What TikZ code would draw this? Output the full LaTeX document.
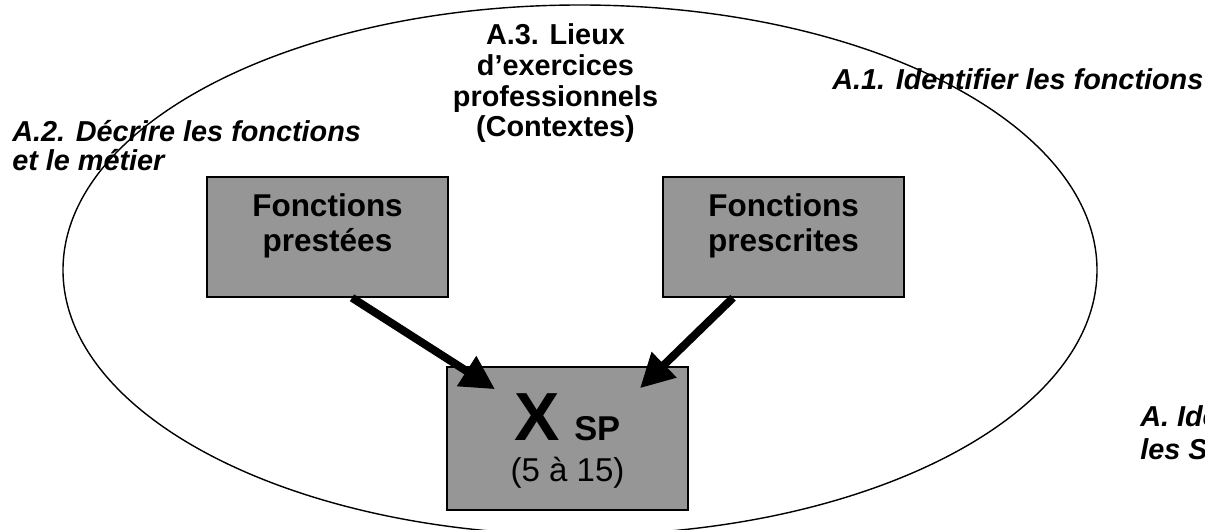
\documentclass[tikz,border=0pt]{standalone}
\usepackage{fontspec}
\setmainfont{Liberation Sans}
\usetikzlibrary{arrows.meta, positioning, calc}
\definecolor{boitegris}{RGB}{150,150,150}
\tikzset{
    boite/.style={
        rectangle,
        draw=black,
        fill=boitegris,
        line width=1.1pt,
        minimum width=6.025cm,
        minimum height=3cm,
        inner sep=0pt
    },
    boitetxt/.style={
        align=center,
        inner sep=0pt,
        font=\fontsize{22.4}{24.9}\selectfont\bfseries
    },
    etape/.style={
        align=left,
        inner sep=0pt,
        anchor=base west,
        font=\fontsize{20.5}{#1}\selectfont\bfseries\itshape
    },
    etape/.default=22pt,
    fleche/.style={
        -{Triangle[length=24pt, width=24pt]},
        line width=5.7pt
    }
}

\begin{document}
\begin{tikzpicture}[x=0.025cm, y=-0.025cm]
    \useasboundingbox (0,0) rectangle (1205,530);
    \clip (0,0) rectangle (1205,530);

    % the field of the activity
    \draw[line width=1pt] (580,270) ellipse [x radius=517, y radius=265];

    % base anchor sits on the last line
    \node[align=center, inner sep=0pt, anchor=base,
          font=\fontsize{20.5}{22}\selectfont\bfseries] (lieux) at (555.5,137)
        {A.3. Lieux\\d’exercices\\professionnels\\(Contextes)};
    \node[etape] (identifier) at (832,90) {A.1. Identifier les fonctions};
    \node[etape=21pt] (decrire) at (12,171) {A.2. Décrire les fonctions\\et le métier};
    \node[etape=23.5pt] (idsp) at (1140,460) {A. Identifier\\les SP};

    % the three boxes
    \node[boite] (prestees) at (327.5,237) {};
    \node[boitetxt] (prestees txt) at ($(prestees)+(0,-11)$) {Fonctions\\prestées};
    \node[boite] (prescrites) at (783.5,237) {};
    \node[boitetxt] (prescrites txt) at ($(prescrites)+(0,-11)$) {Fonctions\\prescrites};
    \node[boite, minimum height=3.575cm] (sp) at (567.5,438.5) {};
    \node[align=center, inner sep=0pt, font=\fontsize{23.5}{29}\selectfont] (sp txt)
        at ($(sp)+(0,2.5)$)
        {{\fontsize{48.4}{50}\selectfont\bfseries X}\hspace{10pt}{\fontsize{24.5}{29}\selectfont\bfseries SP}\\(5 à 15)};

    \draw[fleche] ($(prestees.south)+(24.5,0)$) -- ($(sp.north)+(-72.5,23)$);
    \draw[fleche] ($(prescrites.south)+(-50.5,0)$) -- ($(sp.north)+(72.5,22)$);
\end{tikzpicture}
\end{document}
